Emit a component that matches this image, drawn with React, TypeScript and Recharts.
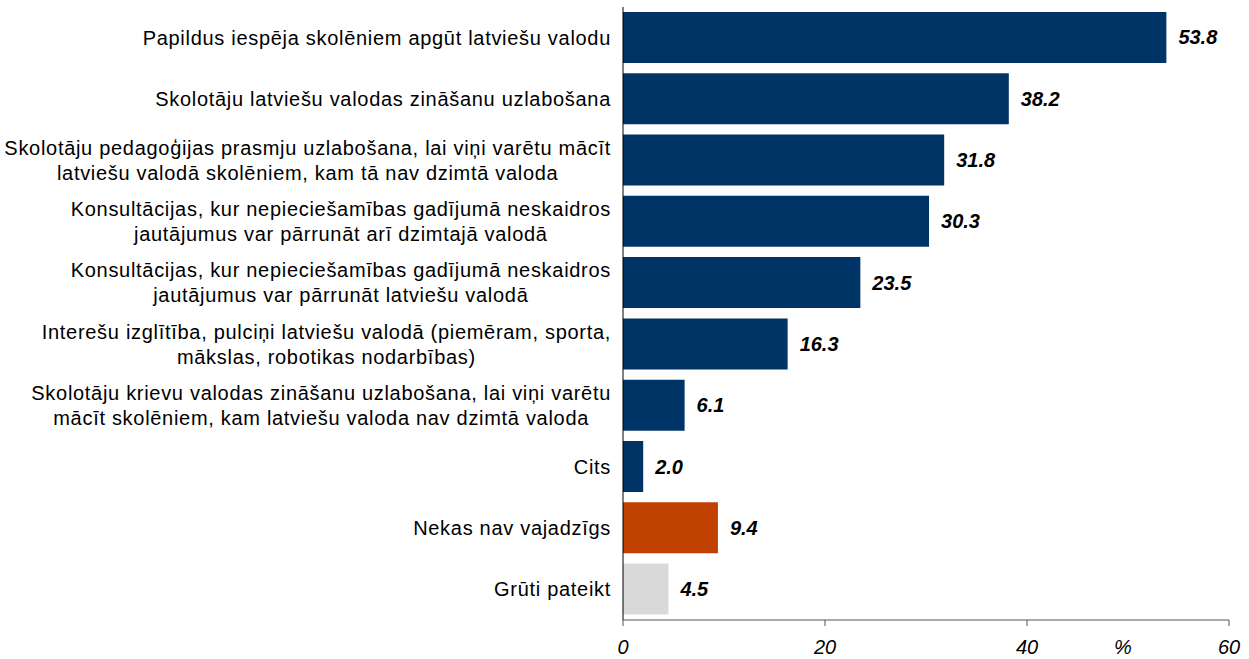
import React from "react";
import { BarChart, Bar, XAxis, YAxis, Cell, LabelList } from "recharts";

const categories: string[] = [
  "Papildus iespēja skolēniem apgūt latviešu valodu",
  "Skolotāju latviešu valodas zināšanu uzlabošana",
  "Skolotāju pedagoģijas prasmju uzlabošana, lai viņi varētu mācīt\nlatviešu valodā skolēniem, kam tā nav dzimtā valoda",
  "Konsultācijas, kur nepieciešamības gadījumā neskaidros\njautājumus var pārrunāt arī dzimtajā valodā",
  "Konsultācijas, kur nepieciešamības gadījumā neskaidros\njautājumus var pārrunāt latviešu valodā",
  "Interešu izglītība, pulciņi latviešu valodā (piemēram, sporta,\nmākslas, robotikas nodarbības)",
  "Skolotāju krievu valodas zināšanu uzlabošana, lai viņi varētu\nmācīt skolēniem, kam latviešu valoda nav dzimtā valoda",
  "Cits",
  "Nekas nav vajadzīgs",
  "Grūti pateikt",
];
const values: number[] = [53.8, 38.2, 31.8, 30.3, 23.5, 16.3, 6.1, 2.0, 9.4, 4.5];
const barColors: string[] = [
  "#003366", "#003366", "#003366", "#003366", "#003366", "#003366", "#003366", "#003366",
  "#C04000", "#D9D9D9",
];
const xTicks: number[] = [0, 20, 40, 60];
const unitLabel = "%";

const data = categories.map((name, i) => ({ name, value: values[i] }));

const FONT = '"Liberation Sans", Arial, sans-serif';
const LABEL_SIZE = 20;
const LETTER_SPACING = 0.7;

let canvasCtx: CanvasRenderingContext2D | null = null;
function measure(text: string): number {
  const fallback = text.length * LABEL_SIZE * 0.5;
  if (typeof document === "undefined") return fallback;
  if (!canvasCtx) {
    const c = document.createElement("canvas");
    canvasCtx = c.getContext("2d");
  }
  if (!canvasCtx) return fallback;
  canvasCtx.font = `${LABEL_SIZE}px ${FONT}`;
  return canvasCtx.measureText(text).width + LETTER_SPACING * text.length;
}

const CategoryTick = (props: any) => {
  const { y, payload } = props;
  const lines: string[] = String(payload.value).split("\n");
  const right = 611;
  const maxW = Math.max(...lines.map(measure));
  const cx = right - maxW / 2;
  const lh = 25;
  const startY = y - ((lines.length - 1) * lh) / 2;
  return (
    <text
      fontFamily={FONT}
      fontSize={LABEL_SIZE}
      letterSpacing={LETTER_SPACING}
      fill="#000"
      textAnchor="middle"
      dominantBaseline="central"
    >
      {lines.map((l, i) => (
        <tspan key={i} x={cx} y={startY + i * lh}>
          {l}
        </tspan>
      ))}
    </text>
  );
};

const ValueLabel = (props: any) => {
  const { x, y, width, height, value } = props;
  return (
    <text
      x={x + width + 12}
      y={y + height / 2}
      fontFamily={FONT}
      fontSize={20}
      fontWeight="bold"
      fontStyle="italic"
      fill="#000"
      dominantBaseline="central"
    >
      {Number(value).toFixed(1)}
    </text>
  );
};

const UnitLabel = (props: any) => {
  const { viewBox } = props;
  const { x, y, width } = viewBox;
  return (
    <text
      x={x + width * 0.825}
      y={y + 27}
      fontFamily={FONT}
      fontSize={20}
      fontStyle="italic"
      fill="#000"
      textAnchor="middle"
      dominantBaseline="central"
    >
      {unitLabel}
    </text>
  );
};

export default function App() {
  return (
    <div style={{ position: "absolute", left: 0, top: 0, background: "#fff" }}>
      <BarChart
        width={1249}
        height={659}
        data={data}
        layout="vertical"
        margin={{ top: 7, right: 20, bottom: 0, left: 0 }}
        barCategoryGap="8%"
      >
        <XAxis
          type="number"
          domain={[0, 60]}
          ticks={xTicks}
          height={39}
          tickSize={6}
          tickMargin={14}
          stroke="#555"
          tick={{ fontFamily: FONT, fontSize: 20, fontStyle: "italic", fill: "#000" }}
          label={<UnitLabel />}
        />
        <YAxis
          type="category"
          dataKey="name"
          width={623}
          tickLine={false}
          stroke="#000"
          tick={<CategoryTick />}
          interval={0}
        />
        <Bar dataKey="value" isAnimationActive={false}>
          {data.map((_, i) => (
            <Cell key={i} fill={barColors[i]} />
          ))}
          <LabelList dataKey="value" content={<ValueLabel />} />
        </Bar>
      </BarChart>
    </div>
  );
}
